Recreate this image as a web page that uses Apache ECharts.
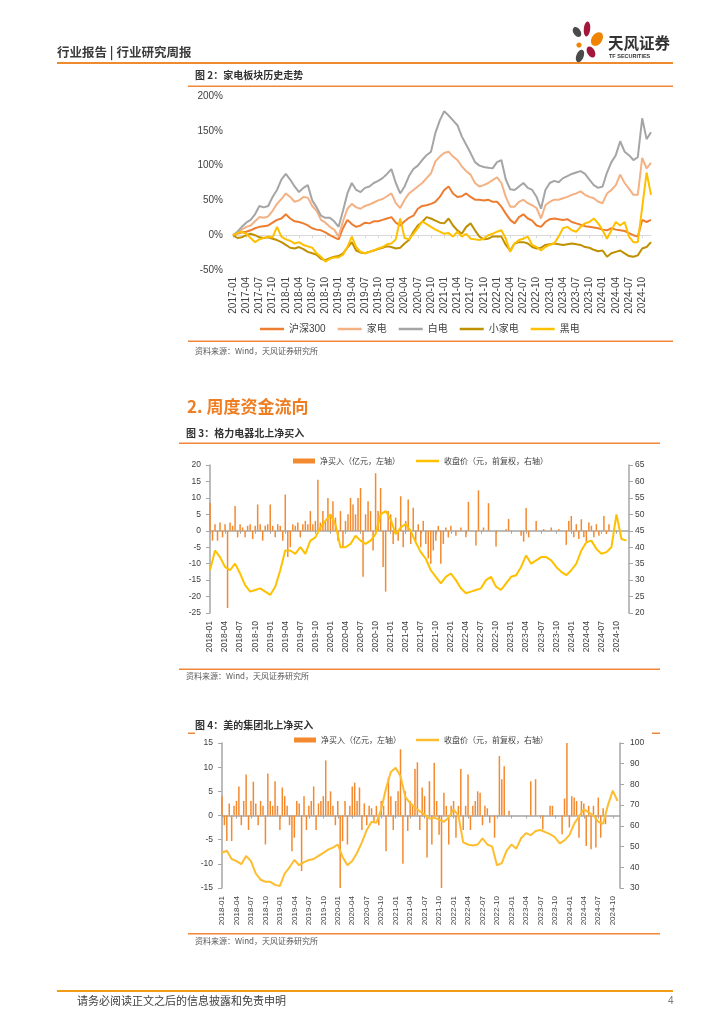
<!DOCTYPE html>
<html><head><meta charset="utf-8">
<script src="https://cdn.jsdelivr.net/npm/echarts@6.0.0/dist/echarts.min.js"></script>
<style>html,body{margin:0;padding:0;background:#fff}#c{width:724px;height:1024px}</style>
</head><body><div id="c"></div>
<script>
// ---------- Chart 1 (图2) monthly, 2017-01 .. 2024-12, % ----------
const hs300 = [0,2,4,5,7,10,12,13,14,18,22,24, 30,24,20,19,17,14,10,8,7,4,0,-3,
  -6,10,22,16,12,14,18,17,20,20,22,24, 26,18,14,20,25,28,38,42,43,45,48,55,
  65,70,60,55,56,60,55,51,51,50,51,48, 48,41,31,22,17,26,30,24,21,14,12,19,
  23,24,23,22,23,19,17,15,13,12,11,10, 8,7,10,8,7,6,3,0,-2,22,19,22];
const jiadian = [0,3,8,12,14,20,26,25,27,35,45,52, 60,55,48,50,55,54,42,35,22,18,12,8,
  -2,20,38,45,40,38,42,44,47,50,52,56, 60,46,39,51,60,65,70,75,82,89,106,113,
  118,120,113,108,99,92,87,75,70,72,75,79, 83,75,55,41,41,48,51,46,43,39,24,43,
  48,51,51,53,55,58,60,63,58,55,53,48, 46,60,65,72,87,75,67,58,58,111,96,104];
const baidian = [0,5,12,18,22,30,42,40,42,55,65,80, 88,80,70,62,68,72,50,40,28,25,25,20,
  12,35,60,75,65,62,68,70,75,78,82,88, 95,75,60,70,85,95,100,108,115,120,147,165,
  178,172,165,158,142,130,118,105,100,98,97,96, 105,108,80,66,65,70,75,68,65,55,38,65,
  75,78,76,82,85,88,90,92,88,80,72,68, 70,90,105,115,135,120,115,108,112,168,138,148];
const xiaojiadian = [0,-4,-3,0,2,0,-3,-4,-3,-5,-7,-10, -14,-18,-19,-17,-20,-24,-26,-28,-34,-36,-33,-31,
  -30,-26,-18,-10,-22,-25,-26,-24,-22,-20,-18,-16, -17,-19,-18,-12,-7,5,14,19,26,24,21,18,
  17,24,14,7,2,12,17,7,-2,-6,-5,-2, -2,-2,-14,-22,-12,-10,-10,-12,-17,-19,-18,-14,
  -13,-12,-13,-14,-13,-12,-13,-14,-17,-18,-21,-23, -22,-31,-26,-24,-22,-26,-30,-31,-29,-19,-17,-10];
const heidian = [0,3,5,2,-4,-10,-6,-4,-2,-3,12,-2, -6,-8,-12,-10,-14,-16,-18,-26,-31,-38,-34,-32,
  -32,-28,-17,-2,-17,-24,-26,-24,-22,-19,-17,-13, -12,-6,24,-4,-6,2,10,20,16,12,8,5,
  2,3,-2,5,-2,2,-5,-6,-7,-5,0,2, 5,7,-5,-24,-12,-7,-5,-2,-14,-17,-22,-17,
  -14,-12,-2,10,12,7,5,12,17,19,24,17, 7,-5,7,19,14,19,-2,-10,-10,40,90,58];

// ---------- Chart 2 (图3) 格力电器: half-monthly net buy (亿元), monthly close (元) ----------
const greeNet = [8.5,-3,2,-3,2.5,-2,2,-23.5,2.5,1.5,7.5,-2,2,1,-2,1.5,2,-2.5,1.5,8,2,-3,1.5,2,
  8,1.5,-2,2,1.5,-3,11,-8,-5,2,1.5,2.5,-2,2,3,2,6,2,3,15.5,2.5,6,3,10,
  5,9,4,-3,6,-5,3,5,10,8,5,10,13,-14,5,9,6,-6,17.5,6,13,-11,-18.5,6,
  5,-4,4,-3,10.5,-5,3,9.5,-4,7,-3,2,-5,3,-4,-8.4,-10,-6,-3,1.5,-10,-4,1,-2,
  1.5,0,-1.5,0,1,0,-2,8.8,0,0,-4.5,12.3,0,1,0,8.4,0,0,-4.8,0,0,0,0.5,3.6,
  0,0,0,0,-1.5,-3.3,6.9,-2,0,0,3,0,0,0.5,0,0,1,0,0,0.5,0,0,-4.3,3,
  4.5,-2,2,-2.5,3.5,-2,-3.3,2.5,1.5,-2,2,-1.5,0,4.5,-1,2,0,0,0,0,0,0,0,0];
const greePrice = [33,39,37,34,33,35,32,28.5,26.5,27,27.5,26.5, 25.5,28,33,39,39,38,40,38,42,43,46,48,
  50,47,40,40,41,43.5,42,41,42,44,50,51, 48.5,44,46,47,45,41.5,38.5,36.5,33,31,29,31,
  32,30,27.5,26,26.5,27,27.5,30,31,28,27,29, 31,31.5,34,37.5,35,36,37,37,36,34,32.5,31.5,
  33,35,39,41.5,42,39.5,38,38.5,40,50,42.5,42];

// ---------- Chart 3 (图4) 美的集团 ----------
const mideaNet = [4,-2,-5.3,2.5,-5.3,2,3,6,-2,3,8.5,-3,3,7,2.5,-2,3,2,-6,8.7,3,2,7.1,2,
  -3,5.8,4,2,-2,-7.4,-4.6,3,2.5,-11.5,4,-3,2,3,6,-3,2.5,3,4,11.4,3,5,2,-2,
  3,-15,-5.3,3,-6,2,6,6.8,3,5.8,-3,2.5,-2,2,1.5,-1.5,2,-2,3,2,-7.4,7.8,4,-3,
  3,5,13.7,-10,5,-3.2,3,2,9.6,11,-3,5.8,4,-8.7,7.1,-6,10.9,3,-4,-15,4.7,2,-6,2,
  3,-4.6,2,9.6,-3,2,8.5,-3,2,3,5,4.7,-2,2,1.5,-1.5,0,-4.6,0,12.3,7.5,10.2,0,1,
  0,0,0,0,0,0,0,0,7.1,0,7.5,0,0,-2.9,0,0,2,2,0,0,0,-3.9,3.5,15,
  -2.5,4,3.7,3,-4.6,3,2.5,-6.3,2,-7,2,-6.6,3.7,-4.6,1.5,-1.8,0,0,0,0,0,0];
const mideaPrice = [47,48,44,43,41.5,45.5,43,37,34,33,33,31.5, 31,37,40,43.5,41,42.5,43.5,44,45.5,47,48.5,49.5,
  51,45,41,43,47,52,58,62,61.5,68,78,86, 88,84,74,71,69,67,65.5,63.5,64,63,62,64,
  68,65,52,51,50.5,51,54,51,50,41,42,48, 51,49,54,56.5,55.5,57.5,58,57,56,54.5,51.5,53,
  55.5,61,64.5,68,66.5,65,62,61,70,77,72];

// ---------- categories ----------
const months1 = [];
for (let y = 2017; y <= 2024; y++) for (let m = 1; m <= 12; m++) months1.push(y + '-' + String(m).padStart(2, '0'));
const halfMonths = [];
for (let y = 2018; y <= 2024; y++) for (let m = 1; m <= 12; m++) {
  const ym = y + '-' + String(m).padStart(2, '0');
  halfMonths.push(ym + '-01', ym + '-16');
}
const halfMonths3 = halfMonths.slice(0, 166);

function monthlyToHalf(arr, n) {
  const out = new Array(n).fill(null);
  arr.forEach((v, i) => { if (2 * i < n) out[2 * i] = v; });
  return out;
}

const FF = '"Liberation Sans","Noto Sans CJK SC",sans-serif';
const TXT = '#404040';
const AX = '#A6A6A6';

function labelAxis(gi, data, fs, margin, interval, fmt) {
  return { type: 'category', gridIndex: gi, data: data, boundaryGap: false, position: 'bottom',
    axisLine: { show: false, onZero: false }, axisTick: { show: false }, splitLine: { show: false },
    axisLabel: { rotate: 90, interval: interval, fontSize: fs, color: TXT, margin: margin, fontFamily: FF, formatter: fmt } };
}
function zeroAxis(gi, data, color, width, interval) {
  return { type: 'category', gridIndex: gi, data: data, boundaryGap: false, position: 'bottom',
    axisLine: { show: true, onZero: true, lineStyle: { color: color, width: width } },
    axisTick: { show: true, interval: interval, length: 3, lineStyle: { color: color } },
    axisLabel: { show: false }, splitLine: { show: false } };
}
function valAxis(gi, pos, min, max, iv, margin, fs) {
  return { type: 'value', gridIndex: gi, position: pos, min: min, max: max, interval: iv,
    axisLine: { show: true, onZero: false, lineStyle: { color: AX, width: 1.5 } },
    axisTick: { show: true, length: 4, lineStyle: { color: AX } }, splitLine: { show: false },
    axisLabel: { fontSize: fs, color: TXT, margin: margin, fontFamily: FF } };
}
const halfFmt = v => v.slice(0, 7);
const q6 = i => i % 6 === 0;

function txt(x, y, s, font, fill, align) {
  return { type: 'text', silent: true, style: { x: x, y: y, text: s, font: font, fill: fill, align: align || 'left', verticalAlign: 'middle' } };
}
function bar(x, y, w, h, fill) {
  return { type: 'rect', silent: true, shape: { x: x, y: y, width: w, height: h }, style: { fill: fill } };
}
function petal(cx, cy, rx, ry, rot, fill) {
  return { type: 'ellipse', silent: true, x: cx, y: cy, rotation: rot, shape: { cx: 0, cy: 0, rx: rx, ry: ry }, style: { fill: fill } };
}
const CJK = '"Noto Sans CJK SC","Liberation Sans",sans-serif';
const ORG = '#F0873A';

const graphics = [
  txt(57, 52, '行业报告 | 行业研究周报', 'bold 12.5px ' + CJK, '#3A3A3A'),
  bar(57, 62, 616, 2, '#EF8B2C'),
  petal(577, 32, 3.6, 5.5, 0.6, '#4A4A4A'),
  petal(587, 29, 3.2, 7.5, -0.1, '#A3173B'),
  petal(597, 39, 5.2, 7.5, -0.6, '#F08300'),
  petal(579, 45, 2.6, 2.6, 0, '#F08300'),
  petal(591, 52, 3.8, 6, 0.5, '#A3173B'),
  petal(580, 56, 3.6, 6.5, -0.4, '#4A4A4A'),
  txt(608, 43, '天风证券', 'bold 15.5px ' + CJK, '#333333'),
  txt(609, 56, 'TF SECURITIES', 'bold 5.5px "Liberation Sans",sans-serif', '#333333'),
  txt(195, 75, '图 2：家电板块历史走势', 'bold 10px ' + CJK, '#333333'),
  bar(188, 85.5, 485, 1.5, ORG),
  bar(188, 340.5, 485, 1.5, ORG),
  txt(195, 351, '资料来源：Wind，天风证券研究所', '8px ' + CJK, '#595959'),
  txt(187, 407, '2. 周度资金流向', 'bold 17px ' + CJK, '#EF7D22'),
  txt(186, 433, '图 3：格力电器北上净买入', 'bold 10px ' + CJK, '#333333'),
  bar(179, 442.5, 481, 1.5, ORG),
  bar(179, 668.5, 481, 1.5, ORG),
  txt(186, 676, '资料来源：Wind，天风证券研究所', '8px ' + CJK, '#595959'),
  txt(195, 725, '图 4：美的集团北上净买入', 'bold 10px ' + CJK, '#333333'),
  bar(188, 732.5, 7, 1.5, ORG),
  bar(652, 732.5, 8, 1.5, ORG),
  bar(188, 933, 472, 1.5, ORG),
  txt(195, 941, '资料来源：Wind，天风证券研究所', '8px ' + CJK, '#595959'),
  bar(57, 990, 616, 2, '#F29B17'),
  txt(77, 1001, '请务必阅读正文之后的信息披露和免责申明', '11px ' + CJK, '#404040'),
  txt(668, 1001, '4', '10px "Liberation Sans",sans-serif', '#777777')
];

const lineS = (name, data, color) => ({ name: name, type: 'line', xAxisIndex: 0, yAxisIndex: 0, data: data,
  symbol: 'none', lineStyle: { color: color, width: 2 }, itemStyle: { color: color } });

const chart = echarts.init(document.getElementById('c'), null, { renderer: 'canvas' });
chart.setOption({
  animation: false,
  backgroundColor: '#ffffff',
  textStyle: { fontFamily: FF },
  grid: [
    { left: 233, top: 96, width: 418, height: 174, outerBoundsMode: 'none', containLabel: false },
    { left: 210, top: 465, width: 419, height: 148, outerBoundsMode: 'none', containLabel: false },
    { left: 222, top: 743, width: 398, height: 145, outerBoundsMode: 'none', containLabel: false }
  ],
  xAxis: [
    labelAxis(0, months1, 10, 7, 2),
    zeroAxis(0, months1, '#D9D9D9', 1, 2),
    labelAxis(1, halfMonths, 8.5, 8, q6, halfFmt),
    zeroAxis(1, halfMonths, AX, 1.5, q6),
    labelAxis(2, halfMonths3, 8, 8, q6, halfFmt),
    zeroAxis(2, halfMonths3, AX, 1.5, q6)
  ],
  yAxis: [
    { type: 'value', gridIndex: 0, min: -50, max: 200, interval: 50,
      axisLine: { show: false }, axisTick: { show: false }, splitLine: { show: false },
      axisLabel: { formatter: '{value}%', fontSize: 10, color: TXT, margin: 10, fontFamily: FF } },
    valAxis(1, 'left', -25, 20, 5, 9, 8.5),
    valAxis(1, 'right', 20, 65, 5, 6, 8.5),
    valAxis(2, 'left', -15, 15, 5, 9, 8.5),
    valAxis(2, 'right', 30, 100, 10, 10, 8.5)
  ],
  legend: [
    { data: ['沪深300', '家电', '白电', '小家电', '黑电'], left: 260, top: 324, padding: 0, icon: 'rect',
      itemWidth: 24, itemHeight: 2.5, itemGap: 12, textStyle: { fontSize: 10, color: TXT, fontFamily: FF } },
    { data: ['净买入（亿元，左轴）'], left: 293, top: 457, padding: 0, icon: 'rect',
      itemWidth: 22, itemHeight: 5, textStyle: { fontSize: 8, color: TXT, fontFamily: CJK } },
    { data: ['收盘价（元，前复权，右轴）'], left: 416, top: 457, padding: 0, icon: 'rect',
      itemWidth: 23, itemHeight: 2.5, textStyle: { fontSize: 8, color: TXT, fontFamily: CJK } },
    { data: ['净买入（亿元，左轴）#3'], left: 294, top: 736, padding: 0, icon: 'rect', formatter: n => n.replace('#3', ''),
      itemWidth: 22, itemHeight: 5, textStyle: { fontSize: 8, color: TXT, fontFamily: CJK } },
    { data: ['收盘价（元，前复权，右轴）#3'], left: 416, top: 736, padding: 0, icon: 'rect', formatter: n => n.replace('#3', ''),
      itemWidth: 23, itemHeight: 2.5, textStyle: { fontSize: 8, color: TXT, fontFamily: CJK } }
  ],
  series: [
    lineS('沪深300', hs300, '#ED7D31'),
    lineS('家电', jiadian, '#F4B183'),
    lineS('白电', baidian, '#A5A5A5'),
    lineS('小家电', xiaojiadian, '#BF9000'),
    lineS('黑电', heidian, '#FFC000'),
    { name: '净买入（亿元，左轴）', type: 'bar', xAxisIndex: 2, yAxisIndex: 1, data: greeNet,
      barWidth: 1.5, itemStyle: { color: '#F38A2F' } },
    { name: '收盘价（元，前复权，右轴）', type: 'line', xAxisIndex: 2, yAxisIndex: 2, data: monthlyToHalf(greePrice, 168),
      connectNulls: true, symbol: 'none', lineStyle: { color: '#FFC000', width: 2 }, itemStyle: { color: '#FFC000' } },
    { name: '净买入（亿元，左轴）#3', type: 'bar', xAxisIndex: 4, yAxisIndex: 3, data: mideaNet,
      barWidth: 1.5, itemStyle: { color: '#F38A2F' } },
    { name: '收盘价（元，前复权，右轴）#3', type: 'line', xAxisIndex: 4, yAxisIndex: 4, data: monthlyToHalf(mideaPrice, 166),
      connectNulls: true, symbol: 'none', lineStyle: { color: '#FDBD2E', width: 2 }, itemStyle: { color: '#FDBD2E' } }
  ],
  graphic: { elements: graphics }
});
</script></body></html>
